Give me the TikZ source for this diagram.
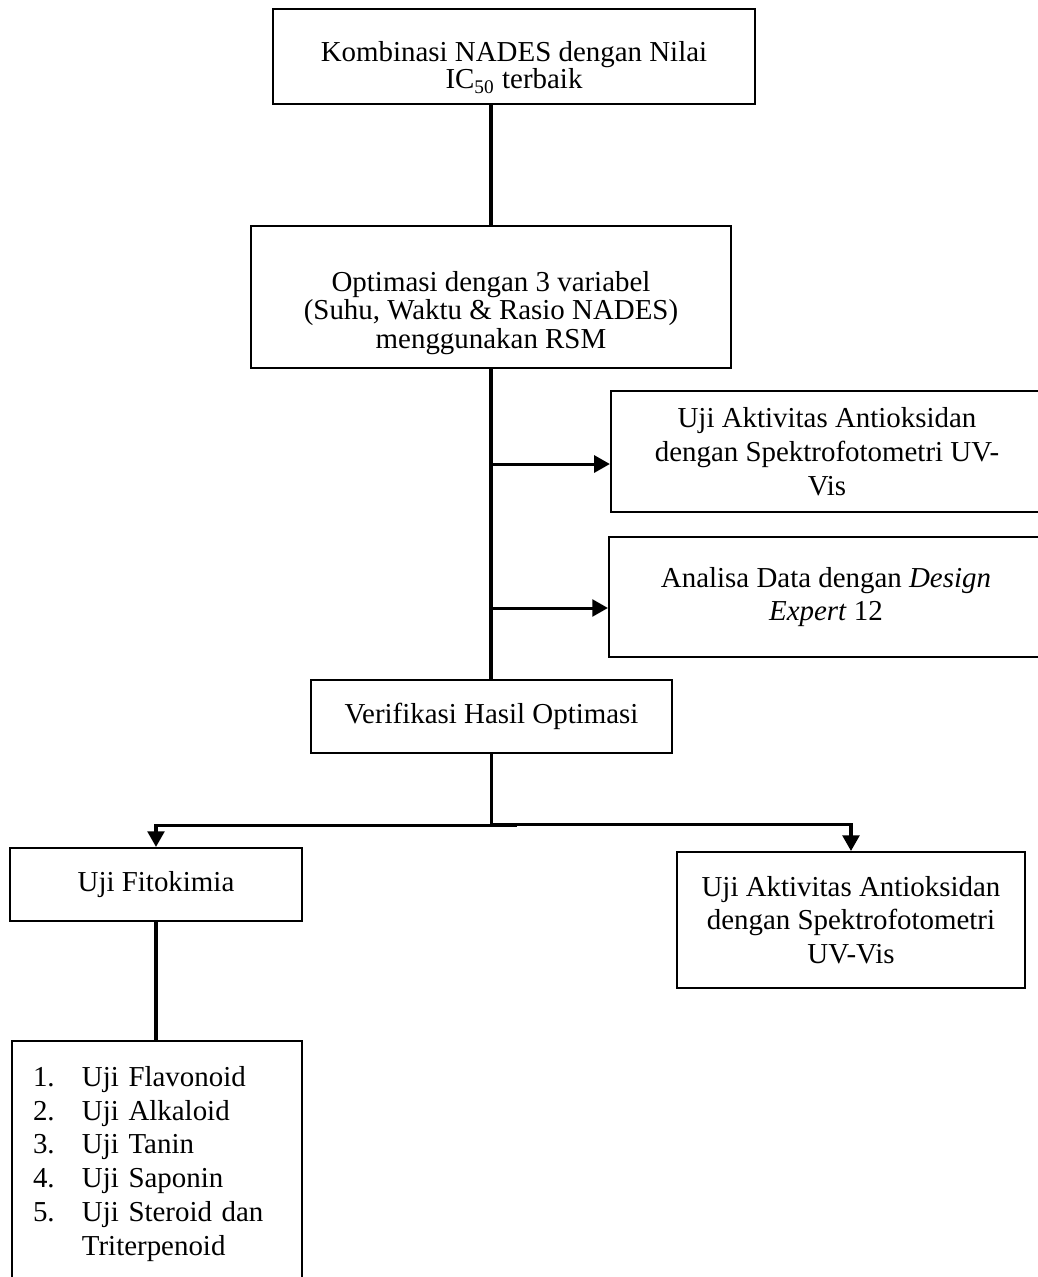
\documentclass[tikz,border=0pt]{standalone}
\usepackage{fontspec}
\setmainfont{Liberation Serif}
\usetikzlibrary{arrows.meta}
\begin{document}
\begin{tikzpicture}[x=0.415pt,y=-0.415pt,
  kotak/.style={draw,line width=0.9pt,align=center,inner sep=2pt,font=\fontsize{12}{14}\selectfont},
  garis/.style={line width=1.25pt},
  panah/.style={line width=1.25pt,-{Triangle[length=6.5pt,width=7pt]}}]
\useasboundingbox (0,0) rectangle (1038,1277);
\clip (0,0) rectangle (1038,1277);
\node[kotak,minimum width=200pt,minimum height=39.4pt,font=\fontsize{12}{11.2}\selectfont,text height=28.6pt] (kombinasi) at (514,56.5) {Kombinasi NADES dengan Nilai\\IC\textsubscript{50} terbaik};
\node[kotak,minimum width=199.2pt,minimum height=58.9pt,font=\fontsize{12}{11.8}\selectfont,text height=45pt] (optimasi) at (491,297) {Optimasi dengan 3 variabel\\(Suhu, Waktu \& Rasio NADES)\\menggunakan RSM};
\node[kotak,minimum width=179.3pt,minimum height=50.2pt] (antioks) at (827,451.5) {Uji Aktivitas Antioksidan\\dengan Spektrofotometri UV-\\Vis};
\node[kotak,minimum width=180.1pt,minimum height=49.8pt] (analisa) at (826,597) {Analisa Data dengan \textit{Design}\\\textit{Expert} 12};
\node[kotak,minimum width=149.8pt,minimum height=30.3pt] (verifikasi) at (491.5,716.5) {Verifikasi Hasil Optimasi};
\node[kotak,minimum width=121.2pt,minimum height=30.3pt] (fitokimia) at (156,884.5) {Uji Fitokimia};
\node[kotak,minimum width=144.4pt,minimum height=56.4pt] (antioksb) at (851,920) {Uji Aktivitas Antioksidan\\dengan Spektrofotometri\\UV-Vis};
\node[kotak,minimum width=120.4pt,minimum height=102.1pt,text width=102.9pt,align=left] (daftar) at (157,1164) {\begin{tabular}{@{}p{20.3pt}@{}l@{}}
1. & Uji Flavonoid\\
2. & Uji Alkaloid\\
3. & Uji Tanin\\
4. & Uji Saponin\\
5. & Uji Steroid dan\\
   & Triterpenoid
\end{tabular}};
\coordinate (cabang1) at (491,464);
\coordinate (cabang2) at (491,608);
\coordinate (pisah) at (491.5,824);
\coordinate (ujung) at (517,825);
\draw[garis] (kombinasi.south -| optimasi.north) -- (optimasi.north);
\draw[garis] (optimasi.south) -- (optimasi.south |- verifikasi.north);
\draw[panah] (cabang1) -- (cabang1 -| antioks.west);
\draw[panah] (cabang2) -- (cabang2 -| analisa.west);
\draw[garis] (verifikasi.south) -- (pisah);
\draw[panah] (ujung) -| (fitokimia.north);
\draw[panah] (pisah) -| (antioksb.north);
\draw[garis] (fitokimia.south) -- (fitokimia.south |- daftar.north);
\end{tikzpicture}
\end{document}
